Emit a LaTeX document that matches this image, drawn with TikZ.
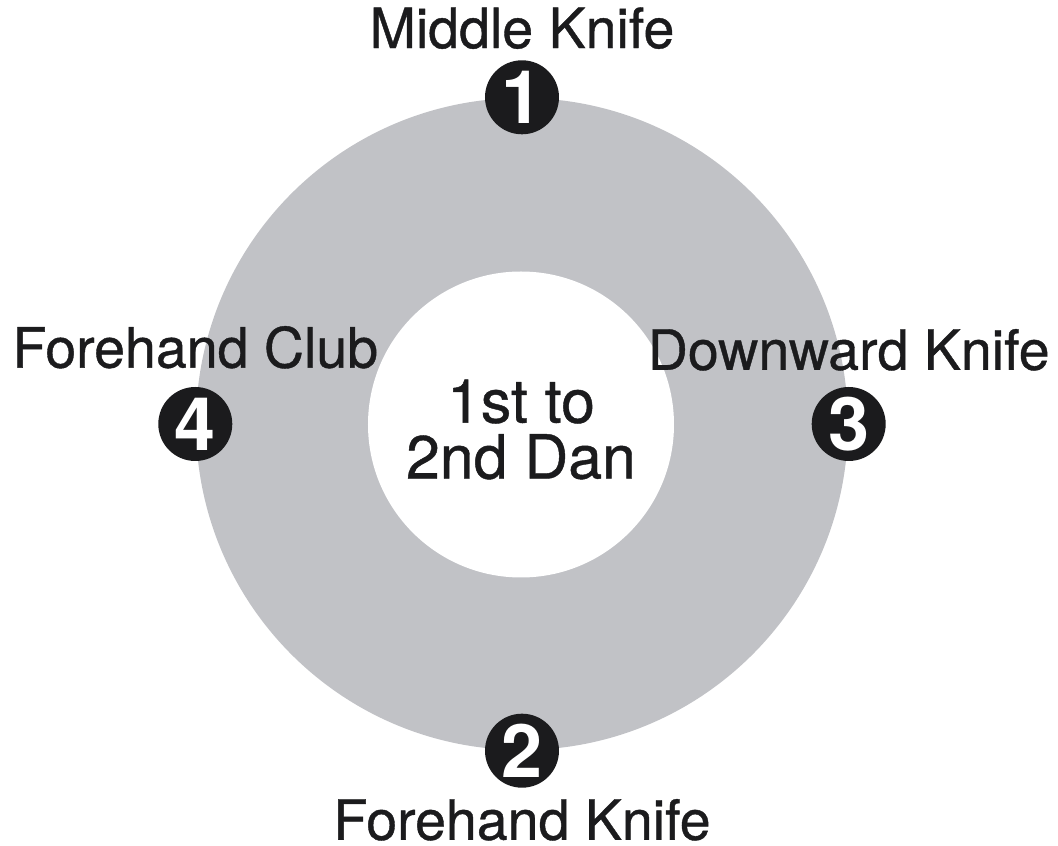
\documentclass[tikz,border=0pt]{standalone}
\usepackage{fontspec}
\setmainfont{TeX Gyre Heros}
\newfontfamily\heavyfont[FakeBold=0.7]{TeX Gyre Heros}
\usepackage{tikz}
\usetikzlibrary{positioning}
\definecolor{ringgray}{RGB}{193,194,198}
\definecolor{inkblack}{RGB}{27,27,29}
\newcommand\lblfont{\heavyfont\fontsize{15.8}{18}\selectfont}
\newcommand\danfont{\heavyfont\fontsize{17.3}{15.9}\selectfont}
\newcommand\badgefont{\fontsize{21}{21}\selectfont\bfseries}
\tikzset{
  ring/.style={circle, fill=ringgray, minimum size=6.52cm, inner sep=0pt},
  hole/.style={circle, fill=white, minimum size=3.06cm, inner sep=0pt},
  badge/.style={circle, fill=inkblack, text=white, minimum size=0.74cm,
    inner sep=0pt, font=\badgefont},
  move/.style={inner sep=0pt, font=\lblfont, text=inkblack},
  rank/.style={inner sep=0pt, align=center, font=\danfont, text=inkblack}
}

\begin{document}
\begin{tikzpicture}
  \useasboundingbox (0,0) rectangle (10.58,-8.46);
  \node[ring] (ring) at (5.22,-4.24) {};
  \node[hole] (hole) at (5.21,-4.245) {};
  \node[rank] (dan) at ([yshift=-0.05cm]hole.center) {1st to\\2nd Dan};

  \node[badge] (b1) at (ring.north) {1};
  \node[badge] (b2) at (ring.south) {2};
  \node[badge] (b3) at (ring.east) {3};
  \node[badge] (b4) at (ring.west) {4};

  \node[move, above=0.1cm of b1] (mid) {Middle Knife};
  \node[move, below=0.1cm of b2] (fore) {Forehand Knife};
  \node[move, above=0.15cm of b3] (down) {Downward Knife};
  \node[move, above=0.17cm of b4] (club) {Forehand Club};
\end{tikzpicture}
\end{document}
